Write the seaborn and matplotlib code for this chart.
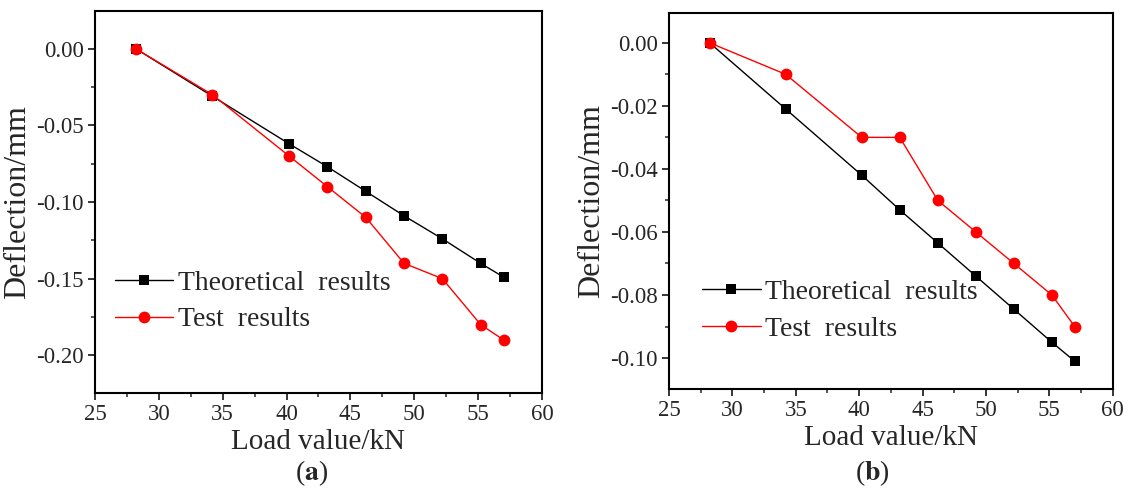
import numpy as np
import pandas as pd
import seaborn as sns
import matplotlib.pyplot as plt
from matplotlib.ticker import MultipleLocator, FuncFormatter

# load values (kN), same for both panels
load = [28.2, 34.2, 40.2, 43.2, 46.2, 49.2, 52.2, 55.2, 57.0]

# panel (a)
theo_a = [0.0, -0.031, -0.062, -0.077, -0.093, -0.109, -0.124, -0.140, -0.149]
test_a = [0.0, -0.030, -0.070, -0.090, -0.110, -0.140, -0.150, -0.180, -0.190]

# panel (b)
theo_b = [0.0, -0.021, -0.042, -0.053, -0.0635, -0.074, -0.0845, -0.095, -0.101]
test_b = [0.0, -0.010, -0.030, -0.030, -0.050, -0.060, -0.070, -0.080, -0.090]

series_names = ["Theoretical  results", "Test  results"]

sns.set_style("ticks")
plt.rcParams["font.family"] = ["Liberation Serif", "DejaVu Serif"]
plt.rcParams["mathtext.fontset"] = "stix"

fig = plt.figure(figsize=(11.32, 4.93), dpi=100)
ax_a = fig.add_axes([0.0839, 0.2028, 0.3949, 0.7748])
ax_b = fig.add_axes([0.591, 0.211, 0.392, 0.763])


def fmt(v, pos):
    v = round(v, 4)
    if v == 0:
        v = 0.0
    return "%.2f" % v


def draw_panel(ax, theo, test, ylim, ystep, legend_anchor):
    df = pd.DataFrame({"load": load * 2,
                       "defl": theo + test,
                       "series": [series_names[0]] * len(load) + [series_names[1]] * len(load)})
    sns.lineplot(data=df[df.series == series_names[0]], x="load", y="defl", ax=ax,
                 color="black", lw=1.0, marker="s", markersize=7, markeredgewidth=0,
                 label=series_names[0])
    sns.lineplot(data=df[df.series == series_names[1]], x="load", y="defl", ax=ax,
                 color="#ff0000", lw=1.0, marker="o", markersize=8.5, markeredgewidth=0,
                 label=series_names[1])
    ax.set_xlim(25, 60)
    ax.set_ylim(*ylim)
    ax.xaxis.set_major_locator(MultipleLocator(5))
    ax.xaxis.set_minor_locator(MultipleLocator(2.5))
    ax.yaxis.set_major_locator(MultipleLocator(ystep))
    ax.yaxis.set_minor_locator(MultipleLocator(ystep / 2))
    ax.yaxis.set_major_formatter(FuncFormatter(fmt))
    ax.tick_params(axis="both", which="major", direction="out", length=5, width=1.3,
                   labelsize=16.5, pad=3, top=False, right=False)
    ax.tick_params(axis="both", which="minor", direction="out", length=3, width=1.1,
                   top=False, right=False)
    for sp in ax.spines.values():
        sp.set_linewidth(1.5)
        sp.set_color("black")
        sp.set_visible(True)
    ax.set_xlabel("Load value/kN", fontsize=21, labelpad=3)
    ax.set_ylabel("Deflection/mm", fontsize=23, labelpad=3)
    ax.legend(loc="lower left", bbox_to_anchor=legend_anchor, frameon=False,
              fontsize=20, handlelength=2.1, handletextpad=0.15, labelspacing=0.4,
              borderaxespad=0)


draw_panel(ax_a, theo_a, test_a, (-0.2246, 0.0246), 0.05, (0.02, 0.13))
draw_panel(ax_b, theo_b, test_b, (-0.1098, 0.0095), 0.02, (0.05, 0.096))

fig.text(0.2748, 0.04, r"($\mathbf{a}$)", fontsize=20, ha="center", va="center")
fig.text(0.7705, 0.04, r"($\mathbf{b}$)", fontsize=20, ha="center", va="center")

fig.savefig("out.png", dpi=100)
